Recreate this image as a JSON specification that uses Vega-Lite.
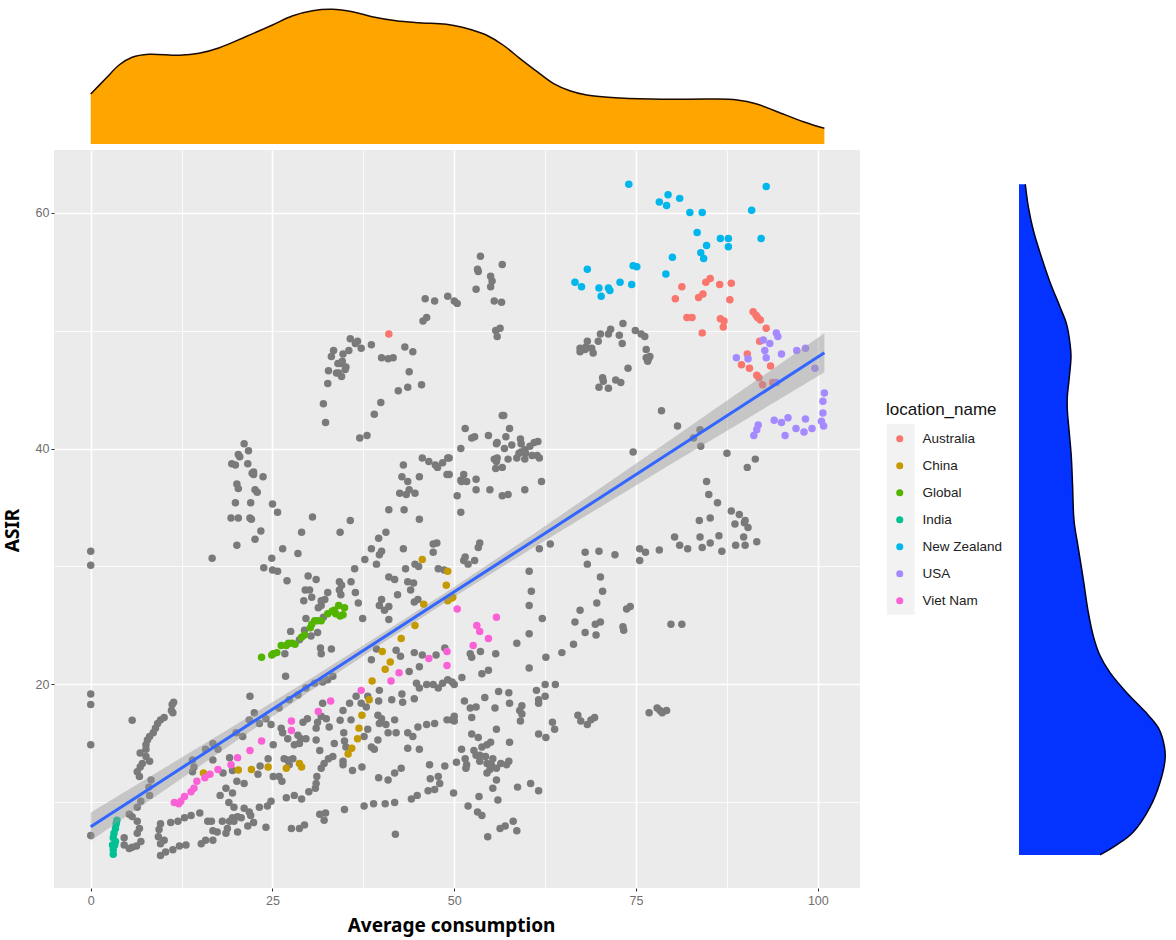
{
"$schema":"https://vega.github.io/schema/vega-lite/v6.json",
"description":"ASIR against average consumption with marginal densities.",
"padding":{"left":3,"top":4,"right":0,"bottom":4},
"background":"white",
"config":{"font":"Liberation Sans","view":{"stroke":null}},
"datasets":{
"other":[
{"x":46.0,"y":52.7},{"x":47.3,"y":52.5},{"x":49.1,"y":52.9},{"x":45.7,"y":50.8},{"x":46.2,"y":51.1},{"x":35.7,"y":49.3},{"x":36.7,"y":49.1},{"x":36.4,"y":48.9},{"x":37.2,"y":48.5},{"x":38.6,"y":48.8},{"x":33.4,"y":48.3},{"x":33.1,"y":47.8},{"x":34.7,"y":48.0},{"x":35.5,"y":48.3},{"x":43.2,"y":48.6},{"x":44.3,"y":48.2},{"x":40.0,"y":47.7},{"x":40.9,"y":47.6},{"x":41.6,"y":47.7},{"x":34.6,"y":47.4},{"x":34.4,"y":47.2},{"x":34.0,"y":47.2},{"x":35.1,"y":46.9},{"x":35.0,"y":46.7},{"x":32.7,"y":46.6},{"x":33.8,"y":46.4},{"x":34.1,"y":46.4},{"x":34.5,"y":46.1},{"x":43.8,"y":46.5},{"x":32.6,"y":45.5},{"x":45.5,"y":45.4},{"x":43.6,"y":45.2},{"x":42.3,"y":44.9},{"x":39.9,"y":43.9},{"x":32.0,"y":43.8},{"x":39.0,"y":42.9},{"x":32.3,"y":42.2},{"x":38.0,"y":41.1},{"x":37.0,"y":40.9},
{"x":21.1,"y":40.4},{"x":21.7,"y":39.8},{"x":20.3,"y":39.5},{"x":20.5,"y":39.3},{"x":21.6,"y":38.7},{"x":19.4,"y":38.7},{"x":19.9,"y":38.6},{"x":22.4,"y":38.0},{"x":22.2,"y":37.9},{"x":22.4,"y":37.8},{"x":23.7,"y":37.6},{"x":20.1,"y":37.0},{"x":20.3,"y":36.6},{"x":22.6,"y":36.5},{"x":22.9,"y":36.3},{"x":19.9,"y":35.4},{"x":22.0,"y":35.4},{"x":25.0,"y":35.3},{"x":25.7,"y":34.6},{"x":19.3,"y":34.1},{"x":20.3,"y":34.1},{"x":21.9,"y":34.1},{"x":22.1,"y":34.0},{"x":30.5,"y":34.2},{"x":35.7,"y":33.9},{"x":45.2,"y":34.0},
{"x":45.6,"y":39.2},{"x":46.5,"y":38.9},{"x":47.4,"y":38.6},{"x":47.7,"y":38.4},{"x":48.4,"y":38.8},{"x":49.1,"y":39.2},{"x":43.0,"y":38.6},{"x":42.8,"y":37.6},{"x":43.6,"y":37.2},{"x":45.2,"y":37.6},{"x":49.0,"y":37.8},{"x":43.8,"y":36.5},{"x":42.5,"y":36.2},{"x":43.4,"y":36.1},{"x":44.6,"y":36.2},{"x":41.0,"y":34.8},{"x":43.1,"y":34.8},
{"x":53.6,"y":56.3},{"x":56.6,"y":55.6},{"x":53.2,"y":55.2},{"x":53.3,"y":55.0},{"x":55.0,"y":54.6},{"x":55.2,"y":54.2},{"x":55.0,"y":53.7},{"x":53.0,"y":53.5},{"x":55.5,"y":52.5},{"x":56.5,"y":52.4},{"x":50.0,"y":52.5},{"x":50.4,"y":52.3},{"x":56.3,"y":50.2},{"x":55.7,"y":50.0},{"x":55.9,"y":49.5},
{"x":73.2,"y":50.6},{"x":71.5,"y":50.1},{"x":71.2,"y":49.7},{"x":70.1,"y":49.7},{"x":72.7,"y":49.6},{"x":74.9,"y":50.0},{"x":75.7,"y":49.7},{"x":76.2,"y":49.5},{"x":69.8,"y":49.1},{"x":68.3,"y":49.1},{"x":73.1,"y":48.9},{"x":67.3,"y":48.5},{"x":68.1,"y":48.6},{"x":68.9,"y":48.5},{"x":67.3,"y":48.2},{"x":68.0,"y":48.4},{"x":69.1,"y":48.1},{"x":76.4,"y":48.4},{"x":76.9,"y":47.8},{"x":76.4,"y":47.7},{"x":76.7,"y":47.6},{"x":76.6,"y":47.4},{"x":73.9,"y":46.8},{"x":70.4,"y":46.0},{"x":70.5,"y":45.7},{"x":72.2,"y":45.8},{"x":72.9,"y":45.6},{"x":69.9,"y":45.2},{"x":71.2,"y":45.1},
{"x":78.5,"y":43.2},{"x":80.7,"y":41.9},{"x":83.8,"y":41.6},{"x":82.9,"y":40.9},{"x":83.9,"y":40.2},{"x":74.6,"y":39.7},{"x":87.5,"y":39.6},{"x":91.4,"y":39.1},{"x":90.3,"y":38.4},{"x":84.7,"y":37.2},{"x":85.0,"y":36.1},{"x":86.2,"y":35.4},{"x":88.1,"y":34.7},{"x":89.2,"y":34.4},{"x":83.7,"y":33.9},{"x":85.2,"y":34.1},{"x":90.0,"y":33.9},
{"x":56.6,"y":42.8},{"x":56.8,"y":42.8},{"x":51.5,"y":41.7},{"x":57.6,"y":41.7},{"x":52.4,"y":40.9},{"x":52.8,"y":41.0},{"x":54.7,"y":41.1},{"x":57.1,"y":41.0},{"x":59.1,"y":40.8},{"x":55.9,"y":40.5},{"x":55.8,"y":40.4},{"x":57.9,"y":40.3},{"x":59.2,"y":40.4},{"x":61.5,"y":40.6},{"x":61.0,"y":40.5},{"x":60.4,"y":40.2},{"x":50.9,"y":40.0},{"x":56.9,"y":40.0},{"x":59.7,"y":39.9},{"x":59.2,"y":39.7},{"x":58.9,"y":39.6},{"x":59.8,"y":39.6},{"x":60.7,"y":39.4},{"x":61.4,"y":39.4},{"x":61.7,"y":39.2},{"x":58.6,"y":39.2},{"x":59.7,"y":39.1},{"x":55.5,"y":39.1},{"x":55.9,"y":39.2},{"x":57.4,"y":39.1},{"x":55.8,"y":38.9},{"x":55.7,"y":38.3},{"x":56.6,"y":38.4},{"x":49.3,"y":39.2},{"x":49.3,"y":37.8},{"x":51.3,"y":37.8},{"x":50.9,"y":37.3},{"x":51.0,"y":37.2},{"x":51.7,"y":37.2},{"x":53.0,"y":37.4},{"x":62.0,"y":37.2},{"x":53.0,"y":36.5},{"x":54.9,"y":36.5},{"x":59.7,"y":36.5},{"x":57.4,"y":36.1},{"x":56.6,"y":36.0},{"x":50.4,"y":36.0},{"x":50.9,"y":34.6},
{"x":0,"y":31.3},{"x":0,"y":30.1},{"x":16.7,"y":30.7},{"x":20.1,"y":31.8},{"x":22.6,"y":32.3},{"x":23.4,"y":33.0},{"x":29.0,"y":32.9},{"x":34.3,"y":32.9},{"x":26.4,"y":31.5},{"x":28.5,"y":31.1},{"x":24.9,"y":30.7},{"x":23.8,"y":29.9},{"x":25.0,"y":29.7},{"x":25.7,"y":29.6},{"x":27.0,"y":28.8},{"x":29.9,"y":29.2},{"x":31.0,"y":28.9},{"x":34.2,"y":28.7},{"x":34.5,"y":28.4},{"x":35.8,"y":28.7},{"x":29.5,"y":28.0},{"x":30.1,"y":28.0},{"x":32.6,"y":27.8},{"x":34.2,"y":28.0},{"x":34.4,"y":27.6},{"x":36.4,"y":27.8},{"x":29.3,"y":27.1},{"x":30.4,"y":27.4},{"x":31.7,"y":27.1},{"x":32.2,"y":27.2},{"x":31.3,"y":26.5},{"x":31.7,"y":26.7},{"x":36.8,"y":26.9},{"x":29.6,"y":25.6},{"x":37.4,"y":25.6},{"x":32.0,"y":25.7},{"x":27.5,"y":24.5},{"x":29.4,"y":24.6},{"x":31.2,"y":24.4},{"x":30.3,"y":24.1},{"x":28.7,"y":23.8},{"x":26.7,"y":22.6},{"x":31.6,"y":23.1},{"x":33.1,"y":23.0},{"x":31.7,"y":22.6},{"x":26.8,"y":20.7},
{"x":0,"y":19.2},{"x":0,"y":18.3},{"x":0,"y":14.9},{"x":0,"y":7.2},{"x":5.7,"y":16.96},{"x":11.4,"y":18.5},{"x":11.2,"y":18.3},{"x":11.1,"y":17.8},{"x":11.3,"y":17.6},{"x":10.1,"y":17.2},{"x":9.6,"y":17.0},{"x":9.2,"y":16.7},{"x":8.9,"y":16.3},{"x":8.6,"y":15.9},{"x":8.1,"y":15.6},{"x":7.8,"y":15.3},{"x":7.6,"y":14.9},{"x":7.6,"y":14.5},{"x":6.8,"y":14.2},{"x":7.6,"y":13.9},{"x":8.1,"y":13.5},{"x":7.1,"y":13.3},{"x":6.8,"y":13.0},{"x":6.4,"y":12.6},{"x":6.7,"y":12.2},{"x":8.3,"y":11.9},{"x":8.0,"y":11.3},{"x":8.1,"y":10.6},{"x":6.9,"y":10.1},{"x":6.4,"y":9.6},{"x":5.3,"y":9.0},{"x":5.7,"y":8.8},{"x":6.4,"y":8.4},{"x":6.7,"y":7.8},{"x":6.4,"y":7.4},{"x":6.9,"y":6.7},{"x":6.3,"y":6.3},{"x":5.3,"y":6.1},{"x":4.6,"y":6.4},{"x":4.6,"y":7.0},{"x":5.7,"y":6.2},
{"x":9.6,"y":8.2},{"x":9.4,"y":7.7},{"x":9.3,"y":7.1},{"x":10.1,"y":6.8},{"x":9.6,"y":6.5},{"x":9.6,"y":5.5},{"x":10.3,"y":5.8},{"x":11.3,"y":6.0},{"x":12.2,"y":6.3},{"x":13.1,"y":6.4},{"x":11.0,"y":8.3},{"x":12.0,"y":8.4},{"x":12.9,"y":8.7},{"x":13.8,"y":8.9},{"x":15.0,"y":9.1},{"x":15.2,"y":6.5},{"x":15.8,"y":6.8},{"x":16.8,"y":6.8},{"x":16.1,"y":8.4},{"x":16.6,"y":8.4},{"x":16.8,"y":7.6},{"x":17.4,"y":7.5},{"x":18.6,"y":7.4},{"x":18.8,"y":7.8},{"x":18.1,"y":8.4},{"x":19.1,"y":8.4},{"x":19.5,"y":8.7},{"x":19.7,"y":8.4},{"x":20.2,"y":8.8},{"x":20.7,"y":8.7},{"x":20.2,"y":7.5},{"x":21.6,"y":8.0},{"x":22.4,"y":8.3},{"x":24.1,"y":7.9},{"x":19.0,"y":10.0},{"x":19.7,"y":9.6},{"x":21.1,"y":9.5},{"x":21.8,"y":9.2},{"x":22.0,"y":8.9},{"x":23.2,"y":9.6},{"x":24.3,"y":9.7},{"x":24.8,"y":10.1},{"x":17.8,"y":10.6},{"x":18.6,"y":11.2},{"x":19.5,"y":10.8},{"x":20.1,"y":11.8},{"x":21.1,"y":11.6},{"x":23.0,"y":12.4},{"x":25.1,"y":12.2},{"x":25.9,"y":12.2},{"x":26.3,"y":11.8},{"x":26.9,"y":10.4},{"x":28.0,"y":10.6},{"x":29.0,"y":10.3},{"x":30.0,"y":10.9},{"x":30.9,"y":11.2},{"x":31.0,"y":11.6},{"x":31.1,"y":12.2},{"x":31.7,"y":12.9},{"x":32.1,"y":13.3},{"x":32.7,"y":13.7},{"x":33.3,"y":13.9},{"x":34.7,"y":13.5},{"x":34.7,"y":13.2},{"x":36.0,"y":12.7},{"x":37.3,"y":13.0},{"x":34.9,"y":9.4},{"x":37.6,"y":9.7},{"x":38.9,"y":9.9},{"x":40.5,"y":9.9},{"x":41.8,"y":10.0},{"x":44.1,"y":10.3},{"x":44.9,"y":10.6},{"x":46.4,"y":11.0},{"x":47.3,"y":11.1},{"x":41.9,"y":7.3},{"x":31.5,"y":9.0},{"x":32.3,"y":9.1},{"x":32.1,"y":8.5},{"x":27.6,"y":7.8},{"x":28.7,"y":7.8},{"x":29.4,"y":8.1},
{"x":14.0,"y":13.6},{"x":14.2,"y":13.0},{"x":14.0,"y":12.6},{"x":15.8,"y":14.5},{"x":16.8,"y":15.0},{"x":17.5,"y":14.5},{"x":16.8,"y":13.6},{"x":19.1,"y":13.8},{"x":18.2,"y":12.5},{"x":19.5,"y":12.7},{"x":20.9,"y":15.6},{"x":20.0,"y":15.9},{"x":21.8,"y":17.0},{"x":22.5,"y":17.6},{"x":21.9,"y":19.0},{"x":23.2,"y":16.7},{"x":24.1,"y":17.1},{"x":24.8,"y":16.6},{"x":25.9,"y":18.0},{"x":27.3,"y":18.7},{"x":28.5,"y":19.1},{"x":29.6,"y":19.7},{"x":30.8,"y":20.1},{"x":31.9,"y":20.2},{"x":33.3,"y":20.7},{"x":32.6,"y":20.4},{"x":23.3,"y":13.1},{"x":24.4,"y":13.7},{"x":25.1,"y":14.9},{"x":26.2,"y":16.3},{"x":26.4,"y":15.9},{"x":27.1,"y":15.4},{"x":26.6,"y":13.7},{"x":27.1,"y":13.6},{"x":27.8,"y":13.7},{"x":27.3,"y":13.2},{"x":28.0,"y":14.9},{"x":28.5,"y":15.7},{"x":28.9,"y":15.4},{"x":29.6,"y":15.4},{"x":28.7,"y":15.0},{"x":29.2,"y":16.8},{"x":29.8,"y":17.1},{"x":31.0,"y":15.3},{"x":31.5,"y":14.4},{"x":31.0,"y":16.3},{"x":31.2,"y":16.8},{"x":31.7,"y":17.3},{"x":32.4,"y":17.1},{"x":31.9,"y":18.4},{"x":32.8,"y":16.4},{"x":33.5,"y":15.0},{"x":34.3,"y":16.97},{"x":34.7,"y":17.8},{"x":34.8,"y":15.9},{"x":34.9,"y":15.2},{"x":35.1,"y":14.7},{"x":35.8,"y":17.0},{"x":35.6,"y":18.4},{"x":36.5,"y":19.0},{"x":37.2,"y":18.4},{"x":38.1,"y":19.0},{"x":37.9,"y":18.1},{"x":38.1,"y":16.2},{"x":37.6,"y":15.6},{"x":38.6,"y":14.7},{"x":39.0,"y":14.5},{"x":39.5,"y":15.3},{"x":39.5,"y":17.4},{"x":40.0,"y":17.1},{"x":39.7,"y":16.7},{"x":40.6,"y":16.6},{"x":40.9,"y":15.9},{"x":42.0,"y":15.9},{"x":41.8,"y":17.0},{"x":39.6,"y":18.6},{"x":39.7,"y":19.5},{"x":41.4,"y":18.7},{"x":42.8,"y":19.2},{"x":42.9,"y":18.5},{"x":44.5,"y":18.8},{"x":43.6,"y":14.6},{"x":45.2,"y":14.5},{"x":43.6,"y":15.9},{"x":44.3,"y":15.6},{"x":45.0,"y":16.4},{"x":46.2,"y":16.6},{"x":47.3,"y":16.7},{"x":49.0,"y":17.0},{"x":46.6,"y":13.2},{"x":48.7,"y":13.1},{"x":42.7,"y":12.9},{"x":41.8,"y":12.5},{"x":40.9,"y":11.9},{"x":39.6,"y":12.1},{"x":46.7,"y":12.0},{"x":47.8,"y":12.2},{"x":48.0,"y":11.6},{"x":44.8,"y":20.1},{"x":45.2,"y":19.7},{"x":46.2,"y":20.0},{"x":47.1,"y":20.0},{"x":47.8,"y":19.7},{"x":48.4,"y":20.1},{"x":49.1,"y":20.4},{"x":43.8,"y":21.1},{"x":45.2,"y":21.5},{"x":42.0,"y":22.9},{"x":42.6,"y":22.4},{"x":44.5,"y":22.7},{"x":45.6,"y":22.5},{"x":47.5,"y":22.5},{"x":48.7,"y":23.1},{"x":38.6,"y":22.1},{"x":39.3,"y":23.0},{"x":41.0,"y":25.5},{"x":39.7,"y":26.7},{"x":40.0,"y":27.2},{"x":40.4,"y":26.3},{"x":41.0,"y":26.6},{"x":42.2,"y":27.6},{"x":44.5,"y":27.0},{"x":45.0,"y":27.2},{"x":44.0,"y":28.0},{"x":43.6,"y":28.7},{"x":44.4,"y":28.6},{"x":41.0,"y":29.1},{"x":41.8,"y":28.9},{"x":43.3,"y":29.8},{"x":44.6,"y":30.2},{"x":45.1,"y":30.0},{"x":47.8,"y":29.8},{"x":48.6,"y":29.7},{"x":36.3,"y":29.8},{"x":37.7,"y":30.6},{"x":39.3,"y":30.2},{"x":38.6,"y":31.5},{"x":39.7,"y":31.0},{"x":40.0,"y":31.3},{"x":39.6,"y":32.4},{"x":40.6,"y":32.9},{"x":43.0,"y":31.5},{"x":47.1,"y":31.9},{"x":47.6,"y":32.0},{"x":47.1,"y":31.2},
{"x":53.5,"y":32.0},{"x":53.3,"y":31.6},{"x":51.5,"y":30.8},{"x":51.3,"y":30.5},{"x":51.9,"y":30.2},{"x":52.8,"y":30.5},{"x":61.7,"y":31.5},{"x":63.2,"y":31.9},{"x":60.3,"y":29.6},{"x":60.6,"y":27.9},{"x":60.3,"y":26.7},{"x":62.1,"y":25.6},{"x":60.3,"y":24.3},{"x":58.6,"y":23.5},{"x":62.6,"y":22.3},{"x":64.8,"y":22.7},{"x":66.4,"y":23.4},{"x":60.3,"y":21.4},{"x":68.0,"y":31.2},{"x":69.9,"y":31.3},{"x":72.1,"y":31.0},{"x":68.3,"y":30.2},{"x":70.1,"y":29.1},{"x":70.4,"y":27.9},{"x":69.6,"y":26.9},{"x":67.3,"y":26.3},{"x":66.6,"y":25.3},{"x":70.1,"y":25.3},{"x":69.4,"y":25.1},{"x":68.0,"y":24.4},{"x":69.5,"y":24.2},{"x":73.7,"y":26.4},{"x":74.2,"y":26.6},{"x":73.2,"y":24.9},{"x":73.3,"y":24.6},{"x":75.5,"y":31.5},{"x":76.3,"y":31.2},{"x":78.2,"y":31.4},{"x":75.5,"y":30.5},{"x":80.3,"y":32.5},{"x":81.0,"y":31.8},{"x":82.1,"y":31.5},{"x":83.8,"y":32.5},{"x":84.1,"y":31.6},{"x":85.2,"y":32.0},{"x":86.4,"y":32.6},{"x":86.8,"y":31.3},{"x":88.7,"y":31.8},{"x":90.0,"y":31.8},{"x":89.8,"y":32.5},{"x":91.6,"y":32.1},{"x":88.6,"y":33.6},{"x":89.9,"y":33.7},{"x":90.4,"y":33.3},{"x":79.8,"y":25.1},{"x":81.3,"y":25.1},{"x":52.2,"y":22.6},{"x":52.4,"y":22.3},{"x":53.6,"y":22.8},{"x":55.7,"y":22.6},{"x":54.7,"y":21.2},{"x":53.8,"y":20.9},{"x":51.05,"y":20.6},{"x":49.7,"y":20.2},{"x":50.0,"y":20.0},{"x":56.1,"y":19.4},{"x":57.5,"y":19.3},{"x":61.3,"y":19.5},{"x":62.5,"y":20.0},{"x":63.9,"y":20.0},{"x":62.5,"y":19.0},{"x":61.6,"y":18.7},{"x":61.6,"y":18.4},{"x":51.4,"y":18.6},{"x":54.2,"y":18.9},{"x":57.6,"y":18.4},{"x":59.3,"y":18.2},{"x":52.2,"y":18.0},{"x":53.0,"y":18.1},{"x":55.6,"y":18.0},{"x":59.0,"y":17.8},{"x":59.3,"y":17.5},{"x":50.0,"y":17.3},{"x":50.0,"y":16.9},{"x":49.6,"y":17.0},{"x":52.4,"y":17.2},{"x":59.1,"y":16.9},{"x":63.5,"y":16.8},{"x":63.8,"y":16.2},{"x":55.8,"y":16.2},{"x":52.4,"y":15.8},{"x":53.3,"y":15.5},{"x":57.6,"y":15.1},{"x":61.6,"y":15.8},{"x":62.6,"y":15.5},{"x":67.0,"y":17.4},{"x":67.4,"y":16.9},{"x":68.3,"y":16.6},{"x":68.8,"y":17.0},{"x":69.3,"y":17.2},{"x":76.8,"y":17.6},{"x":77.9,"y":18.0},{"x":78.3,"y":17.8},{"x":78.6,"y":17.6},{"x":79.2,"y":17.8},{"x":51.0,"y":14.5},{"x":52.7,"y":14.4},{"x":53.0,"y":14.0},{"x":53.8,"y":14.7},{"x":55.0,"y":15.1},{"x":54.5,"y":14.9},{"x":51.5,"y":13.7},{"x":50.3,"y":13.4},{"x":51.7,"y":13.2},{"x":51.6,"y":12.9},{"x":53.5,"y":14.0},{"x":53.5,"y":13.5},{"x":54.3,"y":13.9},{"x":54.5,"y":13.3},{"x":55.3,"y":13.7},{"x":55.1,"y":13.2},{"x":55.8,"y":12.9},{"x":54.9,"y":12.8},{"x":54.5,"y":12.5},{"x":56.4,"y":13.3},{"x":57.2,"y":13.2},{"x":57.5,"y":13.5},{"x":55.8,"y":11.9},{"x":55.3,"y":11.2},{"x":58.7,"y":11.3},{"x":60.5,"y":11.6},{"x":61.6,"y":11.0},{"x":49.9,"y":10.8},{"x":53.4,"y":10.5},{"x":56.0,"y":10.2},{"x":51.9,"y":9.7},{"x":53.2,"y":9.2},{"x":53.8,"y":8.9},{"x":58.1,"y":8.4},{"x":57.0,"y":8.0},{"x":56.3,"y":7.8},{"x":58.6,"y":7.6},{"x":54.6,"y":7.1}
],
"named":[
{"x":41.0,"y":49.7,"loc":"Australia"},{"x":85.2,"y":54.4,"loc":"Australia"},{"x":84.6,"y":54.1,"loc":"Australia"},{"x":86.5,"y":53.9,"loc":"Australia"},{"x":88.1,"y":54.0,"loc":"Australia"},{"x":81.3,"y":53.7,"loc":"Australia"},{"x":84.2,"y":53.1,"loc":"Australia"},{"x":83.6,"y":52.8,"loc":"Australia"},{"x":80.4,"y":52.7,"loc":"Australia"},{"x":87.9,"y":52.6,"loc":"Australia"},{"x":82.0,"y":51.1,"loc":"Australia"},{"x":82.7,"y":51.1,"loc":"Australia"},{"x":86.6,"y":51.0,"loc":"Australia"},{"x":87.1,"y":50.8,"loc":"Australia"},{"x":87.0,"y":50.3,"loc":"Australia"},{"x":84.1,"y":49.8,"loc":"Australia"},{"x":91.1,"y":51.6,"loc":"Australia"},{"x":91.5,"y":51.3,"loc":"Australia"},{"x":91.7,"y":51.1,"loc":"Australia"},{"x":92.1,"y":50.9,"loc":"Australia"},{"x":92.9,"y":50.2,"loc":"Australia"},{"x":92.0,"y":49.1,"loc":"Australia"},{"x":90.3,"y":48.0,"loc":"Australia"},{"x":89.5,"y":47.1,"loc":"Australia"},{"x":90.6,"y":46.8,"loc":"Australia"},{"x":93.5,"y":47.0,"loc":"Australia"},{"x":91.6,"y":46.2,"loc":"Australia"},{"x":91.9,"y":46.0,"loc":"Australia"},{"x":92.4,"y":45.4,"loc":"Australia"},{"x":93.8,"y":45.6,"loc":"Australia"},
{"x":15.5,"y":12.5,"loc":"China"},{"x":20.3,"y":12.75,"loc":"China"},{"x":22.1,"y":12.8,"loc":"China"},{"x":24.4,"y":13.0,"loc":"China"},{"x":26.9,"y":12.9,"loc":"China"},{"x":28.7,"y":13.3,"loc":"China"},{"x":29.0,"y":13.0,"loc":"China"},{"x":35.4,"y":14.1,"loc":"China"},{"x":35.9,"y":14.6,"loc":"China"},{"x":36.7,"y":15.4,"loc":"China"},{"x":36.9,"y":16.3,"loc":"China"},{"x":37.3,"y":17.4,"loc":"China"},{"x":38.3,"y":18.7,"loc":"China"},{"x":38.7,"y":20.3,"loc":"China"},{"x":40.5,"y":21.3,"loc":"China"},{"x":41.2,"y":21.9,"loc":"China"},{"x":40.1,"y":22.8,"loc":"China"},{"x":42.7,"y":23.9,"loc":"China"},{"x":44.6,"y":25.0,"loc":"China"},{"x":45.8,"y":26.8,"loc":"China"},{"x":45.6,"y":30.6,"loc":"China"},{"x":49.1,"y":29.6,"loc":"China"},{"x":48.9,"y":28.4,"loc":"China"},{"x":49.1,"y":27.1,"loc":"China"},{"x":49.6,"y":27.3,"loc":"China"},{"x":49.8,"y":27.4,"loc":"China"},
{"x":23.5,"y":22.3,"loc":"Global"},{"x":24.9,"y":22.5,"loc":"Global"},{"x":25.1,"y":22.6,"loc":"Global"},{"x":25.6,"y":22.7,"loc":"Global"},{"x":26.2,"y":23.3,"loc":"Global"},{"x":26.9,"y":23.3,"loc":"Global"},{"x":27.2,"y":23.5,"loc":"Global"},{"x":27.7,"y":23.5,"loc":"Global"},{"x":28.1,"y":23.4,"loc":"Global"},{"x":29.0,"y":24.0,"loc":"Global"},{"x":29.4,"y":24.2,"loc":"Global"},{"x":30.2,"y":24.8,"loc":"Global"},{"x":30.4,"y":25.1,"loc":"Global"},{"x":30.8,"y":25.4,"loc":"Global"},{"x":31.2,"y":25.4,"loc":"Global"},{"x":31.7,"y":25.4,"loc":"Global"},{"x":32.6,"y":26.0,"loc":"Global"},{"x":33.2,"y":26.2,"loc":"Global"},{"x":33.7,"y":26.0,"loc":"Global"},{"x":34.3,"y":25.8,"loc":"Global"},{"x":34.7,"y":25.9,"loc":"Global"},{"x":34.9,"y":26.5,"loc":"Global"},{"x":34.1,"y":26.7,"loc":"Global"},{"x":33.5,"y":26.3,"loc":"Global"},
{"x":3.6,"y":8.5,"loc":"India"},{"x":3.5,"y":8.2,"loc":"India"},{"x":3.4,"y":7.8,"loc":"India"},{"x":3.2,"y":7.4,"loc":"India"},{"x":3.1,"y":7.0,"loc":"India"},{"x":3.0,"y":6.4,"loc":"India"},{"x":3.3,"y":6.4,"loc":"India"},{"x":3.1,"y":6.0,"loc":"India"},{"x":3.1,"y":5.6,"loc":"India"},{"x":3.4,"y":6.7,"loc":"India"},
{"x":74.0,"y":62.4,"loc":"New Zealand"},{"x":92.9,"y":62.2,"loc":"New Zealand"},{"x":79.4,"y":61.5,"loc":"New Zealand"},{"x":78.2,"y":60.9,"loc":"New Zealand"},{"x":79.2,"y":60.6,"loc":"New Zealand"},{"x":81.0,"y":61.2,"loc":"New Zealand"},{"x":82.4,"y":60.0,"loc":"New Zealand"},{"x":84.1,"y":60.0,"loc":"New Zealand"},{"x":90.9,"y":60.2,"loc":"New Zealand"},{"x":83.4,"y":58.3,"loc":"New Zealand"},{"x":86.6,"y":57.8,"loc":"New Zealand"},{"x":87.7,"y":57.8,"loc":"New Zealand"},{"x":92.2,"y":57.8,"loc":"New Zealand"},{"x":84.7,"y":57.2,"loc":"New Zealand"},{"x":87.7,"y":57.1,"loc":"New Zealand"},{"x":83.9,"y":56.6,"loc":"New Zealand"},{"x":84.3,"y":56.1,"loc":"New Zealand"},{"x":80.0,"y":56.2,"loc":"New Zealand"},{"x":68.3,"y":55.2,"loc":"New Zealand"},{"x":74.6,"y":55.5,"loc":"New Zealand"},{"x":75.1,"y":55.4,"loc":"New Zealand"},{"x":79.1,"y":54.8,"loc":"New Zealand"},{"x":66.6,"y":54.1,"loc":"New Zealand"},{"x":67.5,"y":53.7,"loc":"New Zealand"},{"x":72.8,"y":54.1,"loc":"New Zealand"},{"x":74.4,"y":53.9,"loc":"New Zealand"},{"x":69.9,"y":53.6,"loc":"New Zealand"},{"x":71.2,"y":53.6,"loc":"New Zealand"},{"x":71.4,"y":53.4,"loc":"New Zealand"},{"x":70.2,"y":52.9,"loc":"New Zealand"},
{"x":94.3,"y":49.8,"loc":"USA"},{"x":94.5,"y":49.5,"loc":"USA"},{"x":92.5,"y":49.2,"loc":"USA"},{"x":93.4,"y":48.9,"loc":"USA"},{"x":92.7,"y":48.3,"loc":"USA"},{"x":92.9,"y":47.7,"loc":"USA"},{"x":95.0,"y":48.0,"loc":"USA"},{"x":97.1,"y":48.3,"loc":"USA"},{"x":98.3,"y":48.5,"loc":"USA"},{"x":88.8,"y":47.7,"loc":"USA"},{"x":90.4,"y":47.6,"loc":"USA"},{"x":99.6,"y":46.8,"loc":"USA"},{"x":94.3,"y":45.6,"loc":"USA"},{"x":100.9,"y":44.7,"loc":"USA"},{"x":100.7,"y":44.0,"loc":"USA"},{"x":100.7,"y":43.0,"loc":"USA"},{"x":100.5,"y":42.3,"loc":"USA"},{"x":100.8,"y":41.9,"loc":"USA"},{"x":95.9,"y":42.6,"loc":"USA"},{"x":94.0,"y":42.4,"loc":"USA"},{"x":95.0,"y":42.2,"loc":"USA"},{"x":98.3,"y":42.5,"loc":"USA"},{"x":97.0,"y":41.7,"loc":"USA"},{"x":99.2,"y":41.7,"loc":"USA"},{"x":98.1,"y":41.4,"loc":"USA"},{"x":95.5,"y":41.1,"loc":"USA"},{"x":91.8,"y":42.0,"loc":"USA"},{"x":91.6,"y":41.6,"loc":"USA"},{"x":91.2,"y":41.1,"loc":"USA"},
{"x":11.5,"y":10.0,"loc":"Viet Nam"},{"x":12.1,"y":9.9,"loc":"Viet Nam"},{"x":12.4,"y":10.1,"loc":"Viet Nam"},{"x":12.9,"y":10.5,"loc":"Viet Nam"},{"x":13.8,"y":10.9,"loc":"Viet Nam"},{"x":14.2,"y":11.2,"loc":"Viet Nam"},{"x":14.6,"y":11.8,"loc":"Viet Nam"},{"x":15.7,"y":12.1,"loc":"Viet Nam"},{"x":16.4,"y":12.4,"loc":"Viet Nam"},{"x":17.5,"y":12.8,"loc":"Viet Nam"},{"x":19.3,"y":13.2,"loc":"Viet Nam"},{"x":20.2,"y":13.8,"loc":"Viet Nam"},{"x":21.9,"y":14.4,"loc":"Viet Nam"},{"x":23.5,"y":15.2,"loc":"Viet Nam"},{"x":27.6,"y":16.9,"loc":"Viet Nam"},{"x":27.6,"y":16.1,"loc":"Viet Nam"},{"x":31.3,"y":17.7,"loc":"Viet Nam"},{"x":33.0,"y":18.6,"loc":"Viet Nam"},{"x":37.2,"y":19.5,"loc":"Viet Nam"},{"x":41.3,"y":20.3,"loc":"Viet Nam"},{"x":42.4,"y":21.0,"loc":"Viet Nam"},{"x":46.5,"y":22.2,"loc":"Viet Nam"},{"x":49.0,"y":22.8,"loc":"Viet Nam"},{"x":49.0,"y":21.6,"loc":"Viet Nam"},{"x":50.4,"y":26.4,"loc":"Viet Nam"},{"x":55.8,"y":25.7,"loc":"Viet Nam"},{"x":53.1,"y":25.0,"loc":"Viet Nam"},{"x":53.5,"y":24.5,"loc":"Viet Nam"},{"x":54.7,"y":23.9,"loc":"Viet Nam"},{"x":52.6,"y":23.3,"loc":"Viet Nam"}
],
"fit":[
{"x":0,"fit":7.95,"lo":6.75,"hi":9.15},{"x":10,"fit":11.93,"lo":10.98,"hi":12.88},{"x":20,"fit":15.91,"lo":15.21,"hi":16.61},{"x":30,"fit":19.89,"lo":19.37,"hi":20.41},{"x":40,"fit":23.87,"lo":23.45,"hi":24.29},{"x":50,"fit":27.85,"lo":27.43,"hi":28.27},{"x":60,"fit":31.83,"lo":31.28,"hi":32.38},{"x":70,"fit":35.81,"lo":35.01,"hi":36.61},{"x":80,"fit":39.79,"lo":38.74,"hi":40.84},{"x":90,"fit":43.77,"lo":42.42,"hi":45.12},{"x":100.9,"fit":48.11,"lo":46.46,"hi":49.76}
],
"xdens":[
{"x":0,"d":50},{"x":2.1,"d":65.7},{"x":3.9,"d":79},{"x":5.7,"d":86.7},{"x":8.0,"d":89.7},{"x":12.2,"d":88.7},{"x":14.9,"d":90.7},{"x":17.7,"d":96.3},{"x":21.3,"d":107.3},{"x":25.0,"d":119},{"x":27.7,"d":128},{"x":30.5,"d":133.3},{"x":33.2,"d":134.7},{"x":36.0,"d":132.3},{"x":38.7,"d":127.3},{"x":42.0,"d":123.3},{"x":45.2,"d":121.3},{"x":48.9,"d":119.7},{"x":51.1,"d":116.7},{"x":53.5,"d":111.5},{"x":54.4,"d":109},{"x":56.7,"d":99},{"x":59.0,"d":85.7},{"x":61.4,"d":72.3},{"x":63.6,"d":60.7},{"x":65.9,"d":53.3},{"x":68.2,"d":49},{"x":72.8,"d":46},{"x":78.7,"d":44.7},{"x":85.2,"d":45},{"x":88.9,"d":44},{"x":91.6,"d":40},{"x":94.4,"d":32.3},{"x":98.0,"d":22.3},{"x":100.9,"d":15.7}
],
"ydens":[
{"y":5.55,"d":81},{"y":6.4,"d":97.7},{"y":7.5,"d":114.3},{"y":9.6,"d":131},{"y":11.7,"d":141},{"y":13.6,"d":146},{"y":14.7,"d":145.5},{"y":16.3,"d":139.5},{"y":17.7,"d":126},{"y":19.3,"d":107.7},{"y":21.0,"d":91},{"y":22.5,"d":80.7},{"y":24.1,"d":74.3},{"y":26.1,"d":69.3},{"y":28.9,"d":64.3},{"y":31.7,"d":59},{"y":33.9,"d":55},{"y":36.8,"d":53.6},{"y":39.3,"d":52.3},{"y":41.3,"d":50.3},{"y":43.3,"d":48.3},{"y":44.4,"d":48.3},{"y":45.8,"d":50},{"y":47.8,"d":52},{"y":48.9,"d":51},{"y":50.5,"d":47.7},{"y":52.0,"d":41},{"y":54.1,"d":31},{"y":56.6,"d":21},{"y":58.5,"d":14.3},{"y":60.5,"d":9.3},{"y":62.4,"d":6.3}
]
},
"concat":[
{
"width":806,"height":140,
"data":{"name":"xdens"},
"encoding":{
"x":{"field":"x","type":"quantitative","axis":null,"scale":{"domain":[-5.05,105.8],"nice":false,"zero":false}},
"y":{"field":"d","type":"quantitative","axis":null,"stack":null,"scale":{"domain":[0,140],"nice":false}}
},
"layer":[
{"mark":{"type":"area","color":"#ffa500","interpolate":"catmull-rom"}},
{"mark":{"type":"line","color":"#1a0a00","strokeWidth":1.5,"interpolate":"catmull-rom"}}
]
},
{"width":1,"height":1,"data":{"values":[]},"mark":"point","encoding":{}},
{
"width":806,"height":738,
"view":{"fill":"#ebebeb","stroke":null},
"layer":[
{
"data":{"values":[{}]},
"mark":{"type":"rect","color":"#f2f2f2"},
"encoding":{
"x":{"datum":109.5,"type":"quantitative"},"x2":{"datum":113.3},
"y":{"datum":25.9,"type":"quantitative"},"y2":{"datum":42.1}
}
},
{
"data":{"name":"other"},
"mark":{"type":"circle","size":56,"color":"#7a7a7a","opacity":1},
"encoding":{
"x":{"field":"x","type":"quantitative"},
"y":{"field":"y","type":"quantitative"}
}
},
{
"data":{"name":"named"},
"mark":{"type":"circle","size":56,"opacity":1},
"encoding":{
"x":{"field":"x","type":"quantitative"},
"y":{"field":"y","type":"quantitative"},
"color":{"field":"loc","type":"nominal",
"scale":{"domain":["Australia","China","Global","India","New Zealand","USA","Viet Nam"],"range":["#F8766D","#C49A00","#53B400","#00C094","#00B6EB","#A58AFF","#FB61D7"]},
"legend":{"title":"location_name","orient":"none","legendX":832,"legendY":398,"padding":0,"titleFontSize":17,"titleColor":"#111111","titleFontWeight":"normal","titleFont":"Liberation Sans","titlePadding":13,"labelFontSize":13.5,"labelColor":"#222222","labelFont":"Liberation Sans","symbolType":"circle","symbolSize":50,"symbolOffset":7,"labelOffset":16,"rowPadding":12,"symbolOpacity":1}}
}
},
{
"data":{"name":"fit"},
"mark":{"type":"area","color":"#999999","opacity":0.45},
"encoding":{
"x":{"field":"x","type":"quantitative"},
"y":{"field":"lo","type":"quantitative"},
"y2":{"field":"hi"}
}
},
{
"data":{"name":"fit"},
"mark":{"type":"line","color":"#3366ff","strokeWidth":3},
"encoding":{
"x":{"field":"x","type":"quantitative",
"scale":{"domain":[-5.05,105.8],"nice":false,"zero":false},
"axis":{"title":"Average consumption","titleFont":"Noto Sans","titleFontSize":19,"titleFontWeight":"bold","titleColor":"#000000","titlePadding":10,"titleX":397,
"values":[0,12.5,25,37.5,50,62.5,75,87.5,100],"labelExpr":"datum.value % 25 === 0 ? datum.label : ''","labelFontSize":12.5,"labelColor":"#6e6e6e","labelPadding":3,"labelOverlap":false,"labelFlush":false,"domain":false,
"tickSize":3,"tickColor":{"condition":{"test":"datum.value % 25 === 0","value":"#333333"},"value":"transparent"},
"grid":true,"gridColor":"#ffffff","gridWidth":{"condition":{"test":"datum.value % 25 === 0","value":1.6},"value":0.8}}
},
"y":{"field":"fit","type":"quantitative",
"scale":{"domain":[2.75,65.3],"nice":false,"zero":false},
"axis":{"title":"ASIR","titleFont":"Noto Sans","titleFontSize":19,"titleFontWeight":"bold","titleColor":"#000000","titlePadding":13,"titleY":380,
"values":[10,20,30,40,50,60],"labelExpr":"datum.value % 20 === 0 ? datum.label : ''","labelFontSize":12.5,"labelColor":"#6e6e6e","labelPadding":2,"labelOverlap":false,"labelFlush":false,"domain":false,
"tickSize":3,"tickColor":{"condition":{"test":"datum.value % 20 === 0","value":"#333333"},"value":"transparent"},
"grid":true,"gridColor":"#ffffff","gridWidth":{"condition":{"test":"datum.value % 20 === 0","value":1.6},"value":0.8}}
}
}
}
]
},
{
"width":150,"height":738,
"data":{"name":"ydens"},
"encoding":{
"x":{"field":"d","type":"quantitative","axis":null,"stack":null,"scale":{"domain":[0,150],"nice":false}},
"y":{"field":"y","type":"quantitative","axis":null,"scale":{"domain":[2.75,65.3],"nice":false,"zero":false}}
},
"layer":[
{"mark":{"type":"area","orient":"horizontal","color":"#0433ff","interpolate":"catmull-rom"}},
{"mark":{"type":"line","orient":"horizontal","color":"#000020","strokeWidth":1.5,"interpolate":"catmull-rom"},"encoding":{"order":{"field":"y","type":"quantitative"}}}
]
}
],
"columns":2,
"align":"each",
"spacing":{"row":5,"column":104}
}
